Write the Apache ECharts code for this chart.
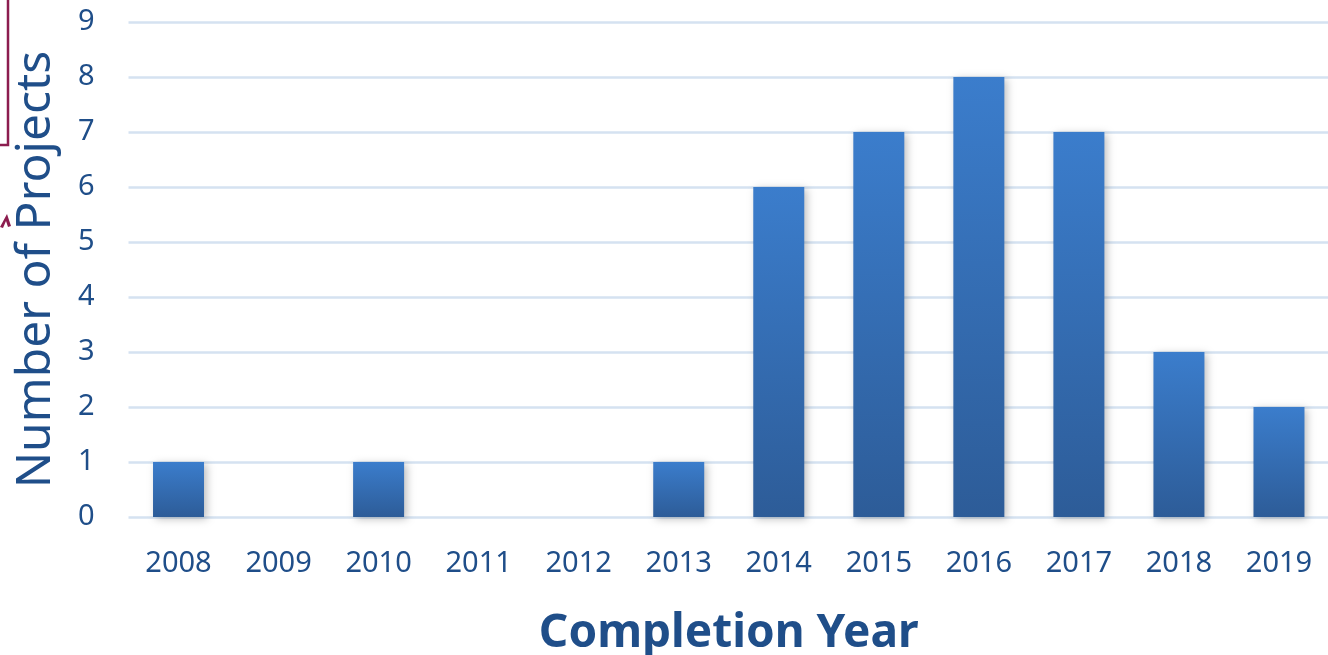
<!DOCTYPE html>
<html><head><meta charset="utf-8">
<script src="https://cdn.jsdelivr.net/npm/echarts@6/dist/echarts.min.js"></script>
<style>html,body{margin:0;padding:0;background:#fff}#c{width:1328px;height:655px}</style>
</head><body><div id="c"></div>
<script>
const years = ['2008','2009','2010','2011','2012','2013','2014','2015','2016','2017','2018','2019'];
const projects = [1,0,1,0,0,1,6,7,8,7,3,2];
const yTicks = [0,1,2,3,4,5,6,7,8,9];

const txt = '#1F4E89';
const chart = echarts.init(document.getElementById('c'));
chart.setOption({
  backgroundColor: '#fff',
  animation: false,
  grid: {left: 128.5, right: -1, top: 22, bottom: 138, containLabel: false, outerBoundsMode: 'none'},
  xAxis: {
    type: 'category', data: years,
    axisLine: {show: false}, axisTick: {show: false},
    axisLabel: {color: txt, fontSize: 29, fontFamily: 'Noto Sans', margin: 32},
    name: 'Completion Year', nameLocation: 'middle', nameGap: 94,
    nameTextStyle: {color: txt, fontSize: 46, fontWeight: 'bold', fontFamily: 'Noto Sans'}
  },
  yAxis: {
    type: 'value', min: yTicks[0], max: yTicks[yTicks.length-1], interval: 1,
    axisLine: {show: false}, axisTick: {show: false},
    axisLabel: {color: txt, fontSize: 29, fontFamily: 'Noto Sans', margin: 34},
    splitLine: {lineStyle: {color: '#D5E2F1', width: 2.5}},
    name: 'Number of Projects', nameLocation: 'middle', nameGap: 68,
    nameTextStyle: {color: txt, fontSize: 48, fontFamily: 'Noto Sans'}
  },
  series: [{
    type: 'bar', data: projects, barWidth: 51,
    itemStyle: {
      color: new echarts.graphic.LinearGradient(0,0,0,1,[{offset:0,color:'#3B7DCC'},{offset:1,color:'#2D5C98'}]),
      shadowColor: 'rgba(0,0,0,0.25)', shadowBlur: 8, shadowOffsetX: 3, shadowOffsetY: 2
    }
  }],
  graphic: [
    {type: 'polyline', shape: {points: [[8,0],[8,145],[0,145]]}, style: {stroke: '#8C1D4F', lineWidth: 2.5, fill: null}, z: 10},
    {type: 'polygon', left: 0, top: 214, shape: {points: [[0,13],[7,0],[11,12],[8,13],[6,7],[3,14]]}, style: {fill: '#8C1D4F'}, z: 10}
  ]
});
</script></body></html>
